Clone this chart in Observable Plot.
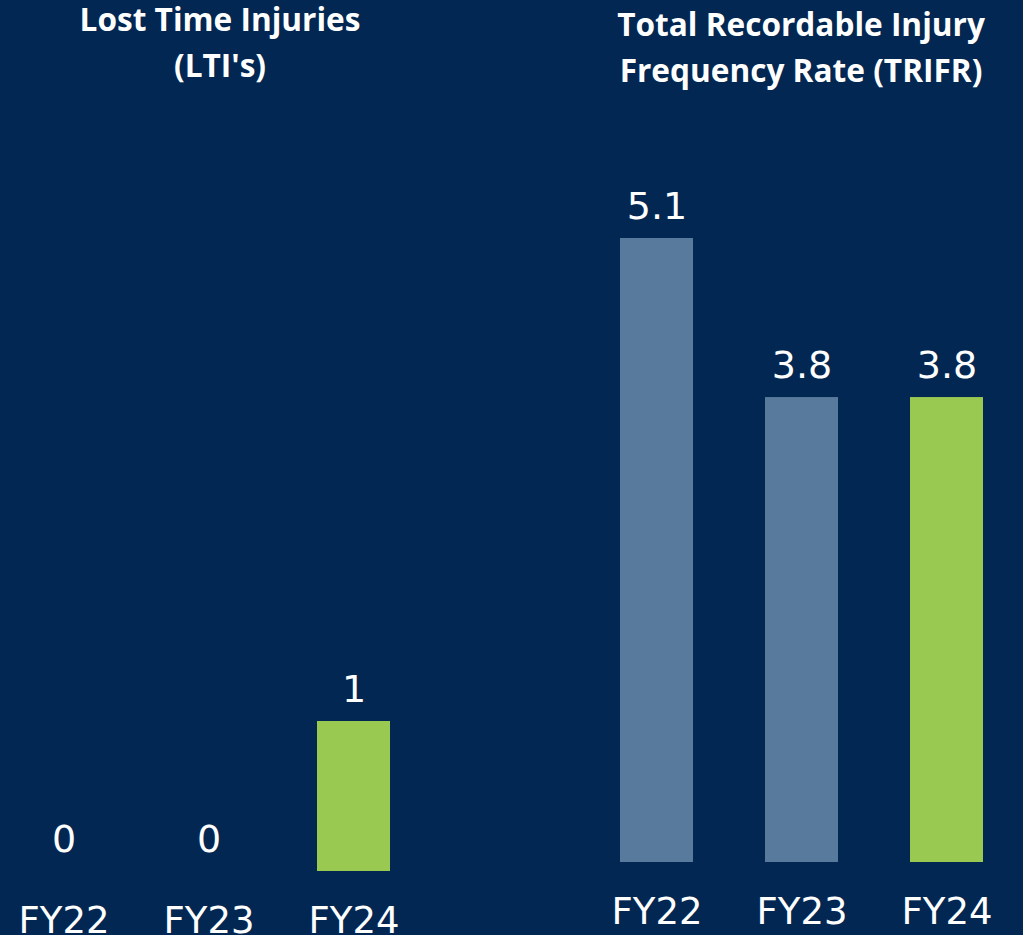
<!DOCTYPE html>
<html>
<head>
<meta charset="utf-8">
<script src="https://cdn.jsdelivr.net/npm/d3@7"></script>
<script src="https://cdn.jsdelivr.net/npm/@observablehq/plot@0.6"></script>
<style>
  html, body { margin: 0; padding: 0; background: #022752; }
  #wrap { position: relative; width: 1023px; height: 935px; overflow: hidden; background: #022752; }
  .title { position: absolute; color: #fff; font-family: "Open Sans", Lato, sans-serif; font-weight: 700; font-size: 31.6px; line-height: 46px; text-align: center; white-space: nowrap; }
  .panel { position: absolute; top: 0; }
  .panel svg { max-width: none !important; display: block; }
</style>
</head>
<body>
<div id="wrap"></div>
<script>
// ---- data ----
const years = ["FY22", "FY23", "FY24"];
const ltiValues = [0, 0, 1];
const trifrValues = [5.1, 3.8, 3.8];
const ltiLabels = ["0", "0", "1"];
const trifrLabels = ["5.1", "3.8", "3.8"];
const highlightYear = "FY24";
const titleLTI = ["Lost Time Injuries", "(LTI's)"];
const titleTRIFR = ["Total Recordable Injury", "Frequency Rate (TRIFR)"];

const BG = "#022752", BLUE = "#587a9c", GREEN = "#99c951";
const wrap = document.getElementById("wrap");

function addTitle(lines, cx, top) {
  const d = document.createElement("div");
  d.className = "title";
  d.style.left = (cx - 250) + "px";
  d.style.width = "500px";
  d.style.top = top + "px";
  d.innerHTML = lines.join("<br>");
  wrap.appendChild(d);
}

function panel(values, labels, left, baseline, topY, fill) {
  const data = years.map((y, i) => ({year: y, value: values[i], label: labels[i]}));
  const maxV = d3.max(values);
  const p = Plot.plot({
    width: 435,
    height: 935,
    marginLeft: 0, marginRight: 0, marginTop: 0,
    marginBottom: 935 - baseline,
    style: {background: "transparent", color: "#fff", fontFamily: "'DejaVu Sans', sans-serif", overflow: "visible"},
    x: {type: "band", domain: years, range: [0, 435], paddingInner: 0.5, paddingOuter: 0.25, axis: null},
    y: {domain: [0, maxV], range: [baseline, topY], axis: null},
    marks: [
      Plot.barY(data, {x: "year", y: "value", fill: d => d.year === highlightYear ? GREEN : fill}),
      Plot.text(data, {x: "year", y: "value", text: "label", lineAnchor: "bottom", dy: -20, fill: "#fff", fontSize: 38}),
      Plot.axisX({anchor: "bottom", tickSize: 0, tickPadding: 35, fontSize: 37, fill: "#fff", lineAnchor: "top", label: null})
    ]
  });
  const holder = document.createElement("div");
  holder.className = "panel";
  holder.style.left = left + "px";
  holder.appendChild(p);
  wrap.appendChild(holder);
}

panel(ltiValues, ltiLabels, -9.5, 871, 721, BLUE);
panel(trifrValues, trifrLabels, 583.5, 862, 238, BLUE);

addTitle(titleLTI, 220, -4);
addTitle(titleTRIFR, 801, 1);
</script>
</body>
</html>
